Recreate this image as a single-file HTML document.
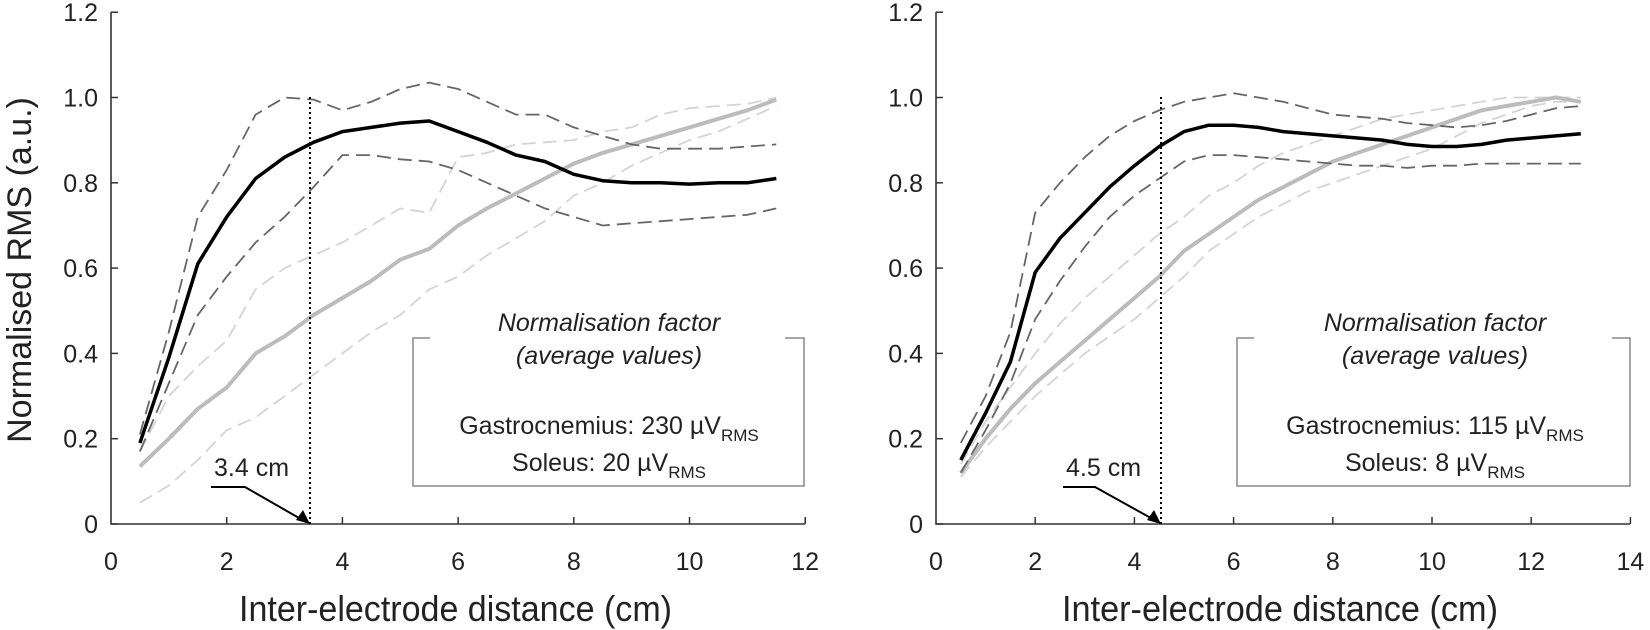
<!DOCTYPE html>
<html><head><meta charset="utf-8"><style>
html,body{margin:0;padding:0;background:#fff}
svg{display:block;font-family:"Liberation Sans",Arial,sans-serif}
</style></head><body>
<svg id="s" width="1650" height="630" viewBox="0 0 1650 630" xmlns="http://www.w3.org/2000/svg">
<g id="plots"></g>
<g stroke="#333" stroke-width="1.6" fill="none">
<path d="M111,12 V524 H805"/>
<path d="M936,12 V524 H1630"/>
</g>
<g id="ticks" stroke="#333" stroke-width="1.5"></g>
<g font-size="25" fill="#222" text-anchor="end" id="ylab"></g>
<g font-size="25" fill="#222" text-anchor="middle" id="xlab"></g>
<text x="0" y="0" font-size="34" fill="#222" text-anchor="middle" transform="translate(31,270) rotate(-90)">Normalised RMS (a.u.)</text>
<text x="239" y="621" font-size="36" fill="#222" textLength="433" lengthAdjust="spacingAndGlyphs">Inter-electrode distance (cm)</text>
<text x="1062" y="621" font-size="36" fill="#222" textLength="436" lengthAdjust="spacingAndGlyphs">Inter-electrode distance (cm)</text>
<g stroke="#000" stroke-width="2" stroke-dasharray="2,3">
<line x1="310" y1="97" x2="310" y2="524"/>
<line x1="1161" y1="97" x2="1161" y2="524"/>
</g>
<g stroke="#000" stroke-width="2" fill="none">
<path d="M211,487 H245 L306,522"/>
<path d="M1063,487 H1095 L1158,522"/>
</g>
<path d="M310,524 L296,520 L303,510 Z" fill="#000"/>
<path d="M1161,524 L1147,520 L1154,510 Z" fill="#000"/>
<g font-size="25" fill="#222">
<text x="214" y="476">3.4 cm</text>
<text x="1066" y="476">4.5 cm</text>
</g>
<g stroke="#888" stroke-width="1.5" fill="none">
<path d="M430,338 H413 V486 H804 V338 H785"/>
<path d="M1254,338 H1237 V486 H1630 V338 H1612"/>
</g>
<g font-size="25" fill="#222" text-anchor="middle">
<text x="609" y="331" font-style="italic">Normalisation factor</text>
<text x="609" y="364" font-style="italic">(average values)</text>
<text x="609" y="434">Gastrocnemius: 230 µV<tspan font-size="17" dy="7">RMS</tspan></text>
<text x="609" y="471">Soleus: 20 µV<tspan font-size="17" dy="7">RMS</tspan></text>
<text x="1435" y="331" font-style="italic">Normalisation factor</text>
<text x="1435" y="364" font-style="italic">(average values)</text>
<text x="1435" y="434">Gastrocnemius: 115 µV<tspan font-size="17" dy="7">RMS</tspan></text>
<text x="1435" y="471">Soleus: 8 µV<tspan font-size="17" dy="7">RMS</tspan></text>
</g>
</svg>
<script>
var NS="http://www.w3.org/2000/svg";
function el(p,t,a,txt){var e=document.createElementNS(NS,t);for(var k in a)e.setAttribute(k,a[k]);if(txt!==undefined)e.textContent=txt;p.appendChild(e);return e;}
var Y=function(v){return 524-v*426.5;};
var L=function(v){return 111+57.85*v;}, R=function(v){return 936+49.6*v;};
var ticks=document.getElementById('ticks'),yl=document.getElementById('ylab'),xl=document.getElementById('xlab');
[[111,805,L,12],[936,1630,R,14]].forEach(function(a,i){
 for(var v=0;v<=6;v++){var y=Y(v*0.2);el(ticks,'line',{x1:a[0],x2:a[0]+7,y1:y,y2:y});
  el(yl,'text',{x:a[0]-13,y:y+9},v==0?'0':(v*0.2).toFixed(1));}
 for(var x=0;x<=a[3];x+=2){var px=a[2](x);if(x>0)el(ticks,'line',{x1:px,x2:px,y1:524,y2:517});
  el(xl,'text',{x:px,y:570},String(x));}
});
var plots=document.getElementById('plots');
function line(f,ys,style){var d='';ys.forEach(function(v,i){d+=(i?'L':'M')+f(0.5+0.5*i).toFixed(1)+','+Y(v).toFixed(1);});
 var a={d:d,fill:'none','stroke-linejoin':'round'};for(var k in style)a[k]=style[k];el(plots,'path',a);}
var gd={stroke:'#d4d4d4','stroke-width':1.8,'stroke-dasharray':'14,7'};
var bd={stroke:'#666','stroke-width':1.8,'stroke-dasharray':'14,7'};
var gm={stroke:'#bcbcbc','stroke-width':4};
var bm={stroke:'#000','stroke-width':3.5};
line(L,[0.17,0.3,0.37,0.43,0.55,0.6,0.63,0.66,0.7,0.74,0.73,0.86,0.87,0.89,0.895,0.9,0.92,0.93,0.96,0.975,0.98,0.985,1.0],gd);
line(L,[0.05,0.09,0.15,0.22,0.25,0.3,0.35,0.4,0.45,0.49,0.55,0.58,0.63,0.67,0.71,0.77,0.8,0.84,0.87,0.9,0.92,0.95,0.98],gd);
line(L,[0.135,0.2,0.27,0.32,0.4,0.44,0.49,0.53,0.57,0.62,0.645,0.7,0.74,0.775,0.81,0.845,0.87,0.89,0.91,0.93,0.95,0.97,0.995],gm);
line(L,[0.21,0.45,0.72,0.83,0.96,1.0,0.995,0.97,0.99,1.02,1.035,1.02,0.99,0.96,0.96,0.93,0.91,0.89,0.88,0.88,0.88,0.885,0.89],bd);
line(L,[0.17,0.33,0.49,0.58,0.66,0.72,0.79,0.865,0.865,0.855,0.85,0.83,0.8,0.77,0.74,0.72,0.70,0.705,0.71,0.715,0.72,0.725,0.74],bd);
line(L,[0.19,0.39,0.61,0.72,0.81,0.86,0.895,0.92,0.93,0.94,0.945,0.92,0.895,0.865,0.85,0.82,0.805,0.8,0.8,0.797,0.8,0.8,0.81],bm);
line(R,[0.14,0.24,0.32,0.4,0.47,0.53,0.58,0.63,0.68,0.72,0.77,0.8,0.84,0.87,0.89,0.91,0.93,0.95,0.96,0.97,0.98,0.99,1.0,1.0,1.0,1.0],gd);
line(R,[0.11,0.18,0.24,0.3,0.35,0.4,0.44,0.48,0.53,0.58,0.64,0.68,0.72,0.75,0.78,0.8,0.82,0.84,0.86,0.88,0.91,0.94,0.96,0.98,0.99,0.99],gd);
line(R,[0.12,0.2,0.27,0.33,0.38,0.43,0.48,0.53,0.58,0.64,0.68,0.72,0.76,0.79,0.82,0.85,0.87,0.89,0.91,0.93,0.95,0.97,0.98,0.99,1.0,0.99],gm);
line(R,[0.19,0.3,0.45,0.73,0.8,0.86,0.91,0.945,0.97,0.99,1.0,1.01,1.0,0.99,0.975,0.96,0.955,0.95,0.94,0.935,0.93,0.935,0.945,0.96,0.975,0.98],bd);
line(R,[0.12,0.22,0.33,0.48,0.57,0.65,0.72,0.77,0.81,0.85,0.865,0.865,0.86,0.855,0.85,0.845,0.84,0.84,0.835,0.84,0.84,0.845,0.845,0.845,0.845,0.845],bd);
line(R,[0.15,0.26,0.38,0.59,0.67,0.73,0.79,0.84,0.885,0.92,0.935,0.935,0.93,0.92,0.915,0.91,0.905,0.9,0.89,0.885,0.885,0.89,0.9,0.905,0.91,0.915],bm);
</script>
</body></html>
